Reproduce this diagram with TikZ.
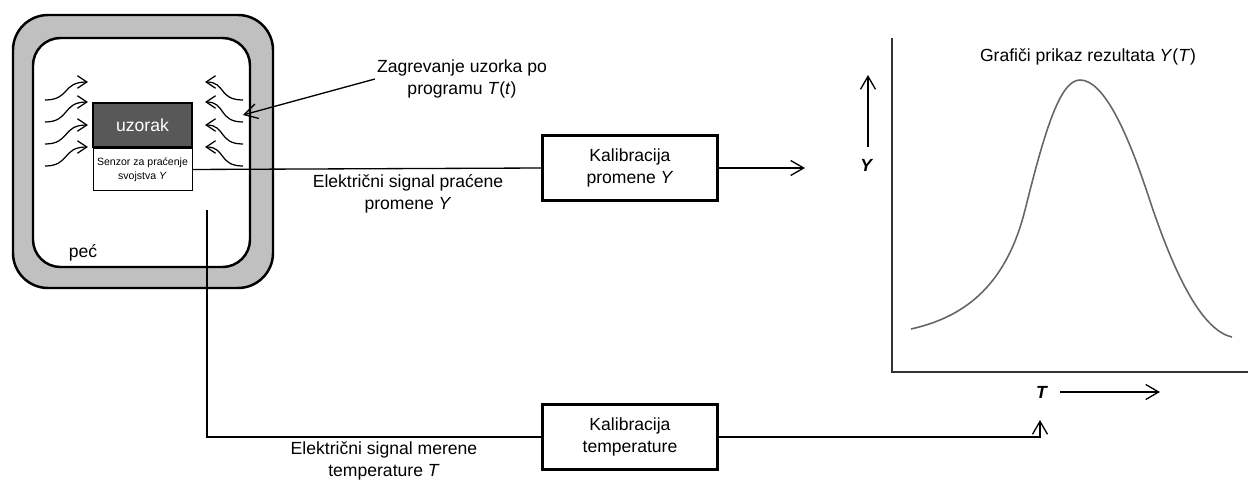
\documentclass[tikz,border=0pt]{standalone}
\usepackage{fontspec}
\setmainfont{Liberation Sans}
\usetikzlibrary{arrows.meta,positioning}
\definecolor{ovengray}{RGB}{192,192,192}
\definecolor{samplegray}{RGB}{88,88,88}

\begin{document}
\begin{tikzpicture}[x=0.02cm,y=-0.02cm,
  font=\fontsize{10}{12.5}\selectfont,
  calbox/.style={draw,line width=1.6pt,minimum width=3.5cm,minimum height=1.3cm,align=center,inner sep=1pt},
  sig/.style={line width=0.75pt},
  sigarrow/.style={line width=0.75pt,-{Straight Barb[length=2.6mm,width=3mm]}},
  heat/.style={line width=0.7pt,-{Straight Barb[length=1.9mm,width=2.5mm]}},
  label/.style={align=center,inner sep=1pt}]

\useasboundingbox (0,0) rectangle (1248,480);

% Draw the oven wall
\draw[fill=ovengray,line width=1.4pt,rounded corners=0.7cm] (13,15) rectangle (273,288);
\draw[fill=white,line width=1.4pt,rounded corners=0.55cm] (33,38) rectangle (250,267);
\node[label] (oven) at (83,253) {peć};

% Sample and sensor
\node[draw,line width=1.2pt,fill=samplegray,text=white,minimum width=1.98cm,minimum height=0.88cm] (sample) at (142.5,125) {uzorak};
\node[draw,line width=0.5pt,fill=white,minimum width=1.98cm,minimum height=0.84cm,inner sep=0pt,align=center,
  font=\fontsize{6}{8}\selectfont,below=0pt of sample] (sensor) {Senzor za praćenje\\svojstva \textit{Y}};

% Heat flowing towards the sample
\foreach \a/\b in {100/82,122/102,144/125,166/147}{
  \draw[heat] (45,\a) .. controls (70,\a) and (62,\b) .. (88,\b);
  \draw[heat] (243,\a) .. controls (218,\a) and (226,\b) .. (205,\b);
}

\node[label] (heatlbl) at (462,79) {Zagrevanje uzorka po\\programu \textit{T}(\textit{t})};
\coordinate (heatpt) at (243,115);
\draw[sigarrow] (heatlbl.west) -- (heatpt);

% Calibration boxes
\node[calbox] (kalY) at (630,168) {Kalibracija\\promene \textit{Y}};
\node[calbox] (kalT) at (630,437) {Kalibracija\\temperature};

% Signal of property Y
\coordinate (Yout) at (805,168);
\draw[sig] (sensor.east) -- (kalY.west);
\draw[sigarrow] (kalY.east) -- (Yout);
\node[label] (Ysig) at (408,194) {Električni signal praćene\\promene \textit{Y}};

% Signal of temperature T
\coordinate (probe) at (207,210);
\coordinate (Tin) at (1040,420);
\draw[sig] (probe) |- (kalT.west);
\draw[sigarrow] (kalT.east) -| (Tin);
\node[label] (Tsig) at (384,461) {Električni signal merene\\temperature \textit{T}};

% Draw the graph of Y(T)
\draw[line width=1pt,black!80] (892,38) -- (892,372) -- (1248,372);
\node[label] (title) at (1088,57) {Grafiči prikaz rezultata \textit{Y}(\textit{T})};
\node[label] (ylbl) at (867,165) {\textbf{\textit{Y}}};
\node[label] (tlbl) at (1042,392) {\textbf{\textit{T}}};
\draw[sigarrow] (868,147) -- (868,75);
\draw[sigarrow] (1060,392) -- (1160,392);
\draw[line width=0.9pt,black!60] (911,329) .. controls (960,318) and (1005,290) .. (1025,210)
  .. controls (1045,130) and (1060,80) .. (1080,80)
  .. controls (1102,80) and (1125,125) .. (1148,195)
  .. controls (1172,268) and (1200,330) .. (1232,337);

\end{tikzpicture}
\end{document}
